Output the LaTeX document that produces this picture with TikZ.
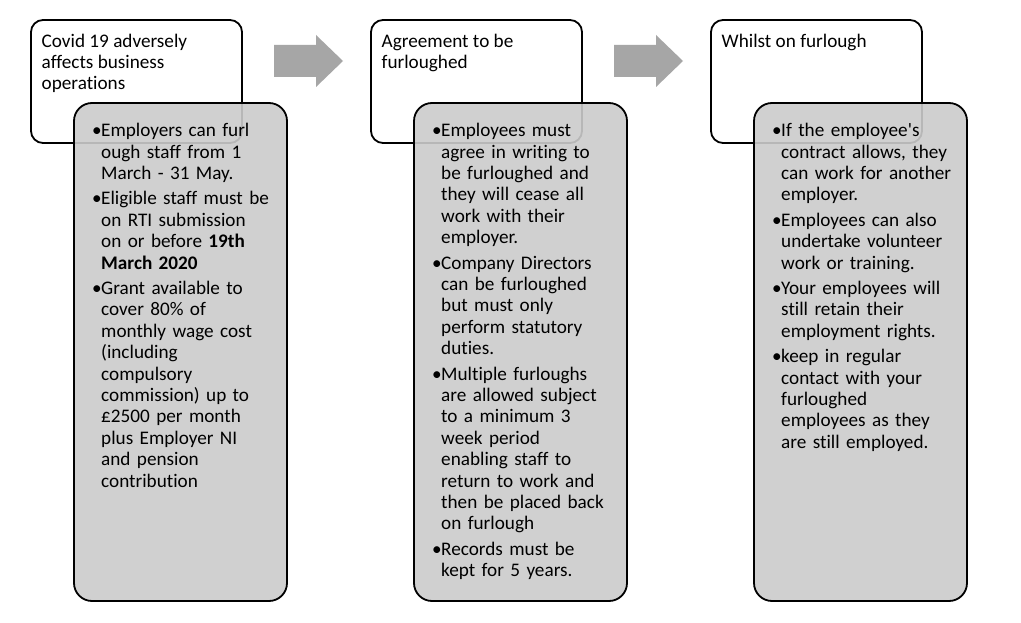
\documentclass[tikz,border=0pt]{standalone}
\usepackage{fontspec}
\setmainfont{Carlito}[Ligatures={NoCommon}]
\newcommand\bitem[1]{\noindent\makebox[9pt][l]{\textbullet}\begin{tabular}[t]{@{}l@{}}#1\end{tabular}\par\vspace{3pt}}
\newcommand\ttl[1]{\begin{tabular}[t]{@{}l@{}}#1\end{tabular}}
\tikzset{
  whitebox/.style={draw=black,line width=1.8pt,fill=white,rounded corners=12pt},
  graybox/.style={draw=black,line width=1.8pt,fill={rgb,255:red,203;green,203;blue,203},fill opacity=0.9,rounded corners=18pt},
  bigarrow/.style={fill={rgb,255:red,166;green,166;blue,166},draw=none},
  txt/.style={inner sep=0pt,anchor=north west,font=\fontsize{19.2}{21.4}\selectfont,text=black},
  btxt/.style={txt,text width=200pt}
}
\begin{document}
\begin{tikzpicture}[x=1pt,y=-1pt]
\useasboundingbox[fill=white] (0,0) rectangle (1021,623);
% column boxes
\foreach \i in {0,1,2}{
  \draw[whitebox] (31+340*\i,20) rectangle (242+340*\i,143);
}
\node[txt] (t1) at (41.5,32) {\ttl{Covid 19 adversely\\affects business\\operations}};
\node[txt] (t2) at (381.5,32) {\ttl{Agreement to be\\furloughed}};
\node[txt] (t3) at (721.5,32) {\ttl{Whilst on furlough}};
\foreach \i in {0,1,2}{
  \draw[graybox] (74+340*\i,103) rectangle (287+340*\i,601);
}
% arrows
\foreach \i in {0,1}{
  \fill[bigarrow] (274+340*\i,45) -- (316+340*\i,45) -- (316+340*\i,35) -- (343+340*\i,61)
     -- (316+340*\i,87) -- (316+340*\i,77) -- (274+340*\i,77) -- cycle;
}
\node[btxt] (b1) at (92,121.5) {%
\bitem{Employers can furl\\ough staff from 1\\March - 31 May.}
\bitem{Eligible staff must be\\on RTI submission\\on or before \textbf{19th}\\\textbf{March 2020}}
\bitem{Grant available to\\cover 80\% of\\monthly wage cost\\(including\\compulsory\\commission) up to\\£2500 per month\\plus Employer NI\\and pension\\contribution}};
\node[btxt] (b2) at (432,121.5) {%
\bitem{Employees must\\agree in writing to\\be furloughed and\\they will cease all\\work with their\\employer.}
\bitem{Company Directors\\can be furloughed\\but must only\\perform statutory\\duties.}
\bitem{Multiple furloughs\\are allowed subject\\to a minimum 3\\week period\\enabling staff to\\return to work and\\then be placed back\\on furlough}
\bitem{Records must be\\kept for 5 years.}};
\node[btxt] (b3) at (772,121.5) {%
\bitem{If the employee\textquotesingle s\\contract allows, they\\can work for another\\employer.}
\bitem{Employees can also\\undertake volunteer\\work or training.}
\bitem{Your employees will\\still retain their\\employment rights.}
\bitem{keep in regular\\contact with your\\furloughed\\employees as they\\are still employed.}};
\end{tikzpicture}
\end{document}
